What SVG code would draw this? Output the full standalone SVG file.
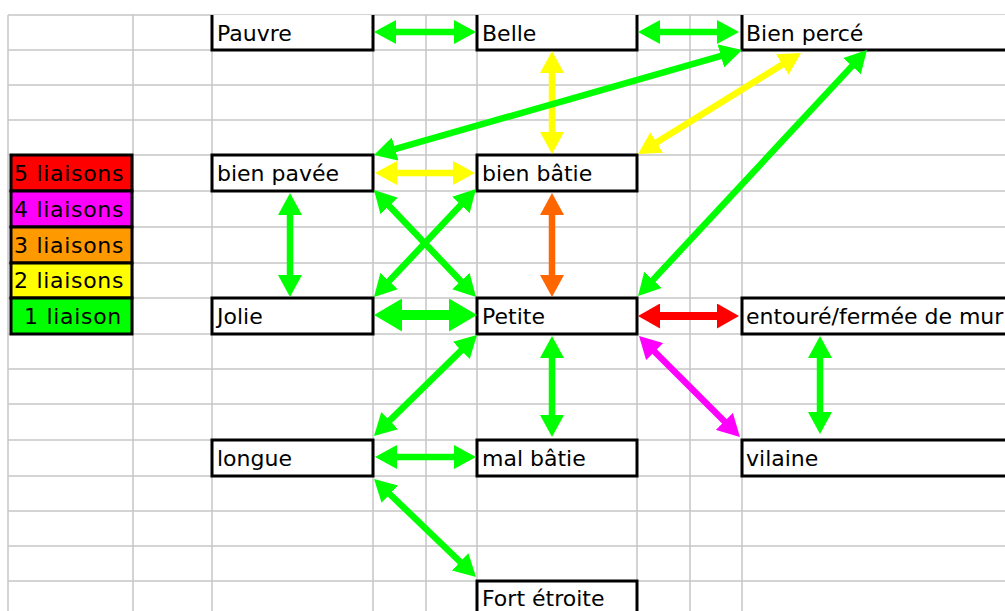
<svg xmlns="http://www.w3.org/2000/svg" width="1005" height="611" viewBox="0 0 1005 611">
  <style>
    .grid line { stroke: #c6c6c6; stroke-width: 1.5; }
    .box { fill: #ffffff; stroke: #000000; stroke-width: 3; }
    .open { fill: none; stroke: #000000; stroke-width: 3; }
    .leg { stroke: #000000; stroke-width: 3; }
    text { font-family: "DejaVu Sans", "Liberation Sans", sans-serif; font-size: 22px; fill: #000000; }
    .lt { letter-spacing: 0.7px; }
    .c { fill: none; stroke-linecap: butt; }
    .g { stroke: #00ff00; stroke-width: 6.5; marker-start: url(#mg); marker-end: url(#mg); }
    .gb { stroke: #00ff00; stroke-width: 10; marker-start: url(#mgb); marker-end: url(#mgb); }
    .y { stroke: #ffff00; stroke-width: 6.5; marker-start: url(#my); marker-end: url(#my); }
    .o { stroke: #ff6600; stroke-width: 6.5; marker-start: url(#mo); marker-end: url(#mo); }
    .r { stroke: #ff0000; stroke-width: 8; marker-start: url(#mr); marker-end: url(#mr); }
    .m { stroke: #ff00ff; stroke-width: 6.5; marker-start: url(#mm); marker-end: url(#mm); }
  </style>
  <defs>
    <marker id="mg" markerUnits="userSpaceOnUse" markerWidth="24" markerHeight="24" refX="14" refY="12" orient="auto-start-reverse"><path d="M0,0 L22,12 L0,24 Z" fill="#00ff00"/></marker>
    <marker id="mgb" markerUnits="userSpaceOnUse" markerWidth="30" markerHeight="33" refX="18" refY="16.5" orient="auto-start-reverse"><path d="M0,0 L28,16.5 L0,33 Z" fill="#00ff00"/></marker>
    <marker id="my" markerUnits="userSpaceOnUse" markerWidth="24" markerHeight="24" refX="14" refY="12" orient="auto-start-reverse"><path d="M0,0 L22,12 L0,24 Z" fill="#ffff00"/></marker>
    <marker id="mo" markerUnits="userSpaceOnUse" markerWidth="24" markerHeight="24" refX="14" refY="12" orient="auto-start-reverse"><path d="M0,0 L22,12 L0,24 Z" fill="#ff6600"/></marker>
    <marker id="mr" markerUnits="userSpaceOnUse" markerWidth="24" markerHeight="25" refX="14" refY="12.5" orient="auto-start-reverse"><path d="M0,0 L22,12.5 L0,25 Z" fill="#ff0000"/></marker>
    <marker id="mm" markerUnits="userSpaceOnUse" markerWidth="24" markerHeight="24" refX="14" refY="12" orient="auto-start-reverse"><path d="M0,0 L22,12 L0,24 Z" fill="#ff00ff"/></marker>
  </defs>
  <rect x="0" y="0" width="1005" height="611" fill="#ffffff"/>
  <g class="grid" id="grid">
    <line x1="8" y1="15" x2="1005" y2="15"/>
    <line x1="8" y1="50" x2="1005" y2="50"/>
    <line x1="8" y1="85" x2="1005" y2="85"/>
    <line x1="8" y1="120" x2="1005" y2="120"/>
    <line x1="8" y1="155" x2="1005" y2="155"/>
    <line x1="8" y1="191" x2="1005" y2="191"/>
    <line x1="8" y1="227" x2="1005" y2="227"/>
    <line x1="8" y1="263" x2="1005" y2="263"/>
    <line x1="8" y1="298" x2="1005" y2="298"/>
    <line x1="8" y1="334" x2="1005" y2="334"/>
    <line x1="8" y1="369" x2="1005" y2="369"/>
    <line x1="8" y1="404" x2="1005" y2="404"/>
    <line x1="8" y1="440" x2="1005" y2="440"/>
    <line x1="8" y1="476" x2="1005" y2="476"/>
    <line x1="8" y1="511" x2="1005" y2="511"/>
    <line x1="8" y1="546" x2="1005" y2="546"/>
    <line x1="8" y1="581" x2="1005" y2="581"/>
    <line x1="8" y1="15" x2="8" y2="611"/>
    <line x1="133" y1="15" x2="133" y2="611"/>
    <line x1="212" y1="15" x2="212" y2="611"/>
    <line x1="373" y1="15" x2="373" y2="611"/>
    <line x1="426" y1="15" x2="426" y2="611"/>
    <line x1="477" y1="15" x2="477" y2="611"/>
    <line x1="637" y1="15" x2="637" y2="611"/>
    <line x1="690" y1="15" x2="690" y2="611"/>
    <line x1="742" y1="15" x2="742" y2="611"/>
  </g>
  <g id="legend">
    <g id="leg5"><rect class="leg" x="11" y="155" width="121" height="36" fill="#ff0000"/><text class="lt" x="14" y="181">5 liaisons</text></g>
    <g id="leg4"><rect class="leg" x="11" y="191" width="121" height="36" fill="#ff00ff"/><text class="lt" x="14" y="217">4 liaisons</text></g>
    <g id="leg3"><rect class="leg" x="11" y="227" width="121" height="36" fill="#ff9900"/><text class="lt" x="14" y="253">3 liaisons</text></g>
    <g id="leg2"><rect class="leg" x="11" y="263" width="121" height="35" fill="#ffff00"/><text class="lt" x="14" y="288">2 liaisons</text></g>
    <g id="leg1"><rect class="leg" x="11" y="298" width="121" height="36" fill="#00ff00"/><text class="lt" x="24" y="324">1 liaison</text></g>
  </g>
  <g id="n-pauvre"><rect x="212" y="15" width="161" height="35" fill="#ffffff"/><path class="open" d="M212,15 V50 H373 V15"/><text x="217" y="41">Pauvre</text></g>
  <g id="n-belle"><rect x="477" y="15" width="160" height="35" fill="#ffffff"/><path class="open" d="M477,15 V50 H637 V15"/><text x="482" y="41">Belle</text></g>
  <g id="n-bienperce"><rect x="742" y="15" width="270" height="35" fill="#ffffff"/><path class="open" d="M742,15 V50 H1010"/><text x="746" y="41">Bien percé</text></g>
  <g id="n-bienpavee"><rect class="box" x="212" y="155" width="161" height="36"/><text x="217" y="181">bien pavée</text></g>
  <g id="n-bienbatie"><rect class="box" x="477" y="155" width="160" height="36"/><text x="482" y="181">bien bâtie</text></g>
  <g id="n-jolie"><rect class="box" x="212" y="298" width="161" height="36"/><text x="217" y="324">Jolie</text></g>
  <g id="n-petite"><rect class="box" x="477" y="298" width="160" height="36"/><text x="482" y="324">Petite</text></g>
  <g id="n-entoure"><rect class="box" x="742" y="298" width="300" height="36"/><text x="746" y="324">entouré/fermée de mur</text></g>
  <g id="n-longue"><rect class="box" x="212" y="440" width="161" height="36"/><text x="217" y="466">longue</text></g>
  <g id="n-malbatie"><rect class="box" x="477" y="440" width="160" height="36"/><text x="482" y="466">mal bâtie</text></g>
  <g id="n-vilaine"><rect class="box" x="742" y="440" width="300" height="36"/><text x="746" y="466">vilaine</text></g>
  <g id="n-fortetroite"><rect class="box" x="477" y="581" width="160" height="40"/><text x="482" y="606">Fort étroite</text></g>
  <g id="connectors">
    <line class="c g" x1="382" y1="32" x2="468" y2="32"/>
    <line class="c g" x1="646" y1="32" x2="731" y2="32"/>
    <line class="c y" x1="552" y1="59" x2="552" y2="146"/>
    <line class="c g" x1="734.3" y1="52.2" x2="381.7" y2="152.8"/>
    <line class="c y" x1="794.2" y1="57.2" x2="644.8" y2="149.8"/>
    <line class="c g" x1="861.5" y1="55.9" x2="643.5" y2="290.1"/>
    <line class="c y" x1="383" y1="173" x2="467" y2="173"/>
    <line class="c g" x1="290" y1="201" x2="290" y2="289"/>
    <line class="c g" x1="379.5" y1="195.8" x2="470.5" y2="291.2"/>
    <line class="c g" x1="470.5" y1="194.8" x2="379.5" y2="291.2"/>
    <line class="c o" x1="552" y1="201" x2="552" y2="289"/>
    <line class="c gb" x1="384" y1="315" x2="467" y2="315"/>
    <line class="c r" x1="646" y1="316" x2="731" y2="316"/>
    <line class="c m" x1="644.7" y1="341.7" x2="734.3" y2="431.3"/>
    <line class="c g" x1="820" y1="344" x2="820" y2="426"/>
    <line class="c g" x1="471.3" y1="340.6" x2="379.7" y2="430.4"/>
    <line class="c g" x1="552" y1="344" x2="552" y2="429"/>
    <line class="c g" x1="383" y1="457" x2="468" y2="457"/>
    <line class="c g" x1="379.8" y1="484.5" x2="470.2" y2="571.5"/>
  </g>
</svg>
